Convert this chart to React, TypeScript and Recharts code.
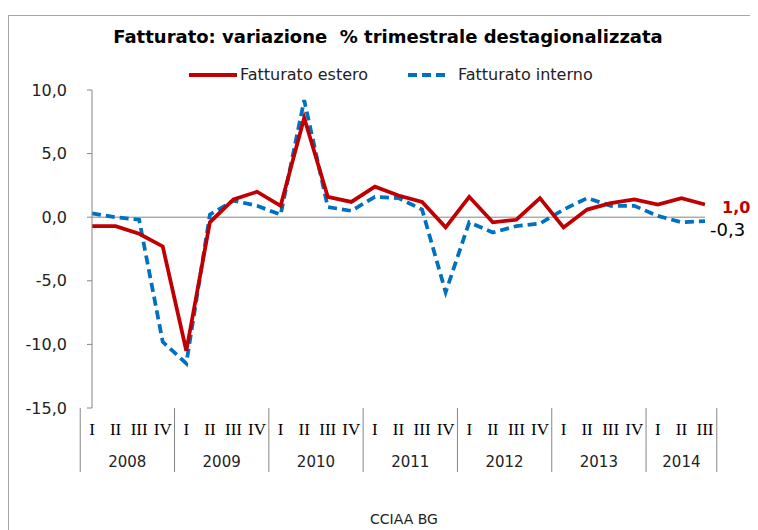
import { LineChart, Line, XAxis, YAxis, ReferenceLine, Legend, LabelList } from 'recharts';

const years = ['2008', '2009', '2010', '2011', '2012', '2013', '2014'];
const quarterNames = ['I', 'II', 'III', 'IV'];
const quartersPerYear = [4, 4, 4, 4, 4, 4, 3];

// Fatturato estero (rosso, continuo)
const estero = [-0.7, -0.7, -1.3, -2.3, -10.5, -0.4, 1.4, 2.0, 0.9, 7.8, 1.6, 1.2, 2.4, 1.7, 1.2, -0.8, 1.6, -0.4, -0.2, 1.5, -0.8, 0.6, 1.1, 1.4, 1.0, 1.5, 1.0];
// Fatturato interno (blu, tratteggiato)
const interno = [0.3, 0.0, -0.2, -9.8, -11.5, 0.2, 1.3, 0.9, 0.2, 9.2, 0.8, 0.5, 1.6, 1.5, 0.6, -5.9, -0.4, -1.2, -0.7, -0.5, 0.6, 1.5, 0.9, 0.9, 0.1, -0.4, -0.3];

const yTicks = [-15, -10, -5, 0, 5, 10];

const data = years
  .flatMap((year, yi) =>
    quarterNames.slice(0, quartersPerYear[yi]).map((q, qi) => ({
      key: `${year}-${q}`,
      year,
      q,
      first: qi === 0,
      groupSize: quartersPerYear[yi],
    }))
  )
  .map((d, i) => ({ ...d, estero: estero[i], interno: interno[i] }));

const W = 750;
const H = 522;
const PLOT_LEFT = 73;
const PLOT_RIGHT = 709;
const PLOT_TOP = 82;
const PLOT_BOTTOM = 400;
const Y_AXIS_W = 60;
const X_AXIS_H = 80;
const BAND = (PLOT_RIGHT - PLOT_LEFT) / data.length;
// recharts eats ~11px more on each side than the margin says, found by measuring
const FUDGE_L = 11;
const FUDGE_R = 12;

const RED = '#C00000';
const BLUE = '#0070C0';
const GREY = '#868686';
const SANS = "'DejaVu Sans', Verdana, sans-serif";

const fmt = (v: number) => v.toFixed(1).replace('.', ',');

const CategoryTick = (props: any) => {
  const { x, y, payload } = props;
  const i = props.index ?? payload.index;
  const d = data[i];
  if (!d) return null;
  const left = x - BAND / 2;
  return (
    <g>
      <text x={x} y={y + 21} textAnchor="middle" dominantBaseline="central"
        fontFamily="'Liberation Serif', serif" fontSize={17} fill="#000">{d.q}</text>
      {d.first && <line x1={left} x2={left} y1={y} y2={y + 64} stroke={GREY} />}
      {d.first && (
        <text x={left + (BAND * d.groupSize) / 2} y={y + 54} textAnchor="middle" dominantBaseline="central"
          fontFamily={SANS} fontSize={15} fill="#222">{d.year}</text>
      )}
      {i === data.length - 1 && <line x1={x + BAND / 2} x2={x + BAND / 2} y1={y} y2={y + 64} stroke={GREY} />}
    </g>
  );
};

const EndLabel = (color: string, bold: boolean, dx: number, dy: number) => (props: any) => {
  const { x, y, value, index } = props;
  if (index !== data.length - 1) return null;
  return (
    <text x={x + dx} y={y + dy} dominantBaseline="central" fontFamily={SANS}
      fontSize={bold ? 16 : 18} fontWeight={bold ? 'bold' : 'normal'} fill={color}>{fmt(value)}</text>
  );
};

const LegendContent = () => (
  <div style={{ position: 'relative', height: 20, fontFamily: SANS, fontSize: 16, color: '#222' }}>
    <svg style={{ position: 'absolute', left: 181, top: 0 }} width={48} height={20}>
      <line x1={0} x2={48} y1={10} y2={10} stroke={RED} strokeWidth={4} />
    </svg>
    <span style={{ position: 'absolute', left: 232, top: 0, lineHeight: '20px', whiteSpace: 'nowrap' }}>Fatturato estero</span>
    <svg style={{ position: 'absolute', left: 399, top: 0 }} width={42} height={20}>
      <line x1={1} x2={42} y1={10} y2={10} stroke={BLUE} strokeWidth={4} strokeDasharray="9 5" />
    </svg>
    <span style={{ position: 'absolute', left: 450, top: 0, lineHeight: '20px', whiteSpace: 'nowrap' }}>Fatturato interno</span>
  </div>
);

export default function App() {
  return (
    <div style={{ position: 'relative', width: W, height: H, overflow: 'hidden', background: '#fff' }}>
      <div style={{ position: 'absolute', left: 0, top: 7, width: W + 20, height: H + 20, border: '1px solid #a6a6a6' }} />
      <div style={{ position: 'absolute', left: 0, top: 18, width: 760, textAlign: 'center', fontFamily: SANS, fontWeight: 'bold', fontSize: 18, lineHeight: '22px', color: '#000' }}>
        Fatturato: variazione&nbsp; % trimestrale destagionalizzata
      </div>
      <LineChart
        width={W}
        height={H}
        data={data}
        margin={{ top: PLOT_TOP, right: W - PLOT_RIGHT + FUDGE_R, left: PLOT_LEFT - Y_AXIS_W + FUDGE_L, bottom: H - PLOT_BOTTOM - X_AXIS_H }}
        style={{ position: 'absolute', left: 0, top: 0 }}
      >
        <XAxis dataKey="key" interval={0} height={X_AXIS_H} axisLine={false} tickLine={false}
          tickSize={0} tickMargin={0} tick={<CategoryTick />} />
        <YAxis domain={[-15, 10]} ticks={yTicks} width={Y_AXIS_W} tickFormatter={fmt}
          axisLine={{ stroke: GREY }} tickLine={{ stroke: GREY }} tickSize={5} tickMargin={8}
          tick={{ fontFamily: SANS, fontSize: 16, fill: '#222', dx: -12 }} allowDataOverflow />
        <ReferenceLine y={0} stroke={GREY} strokeWidth={1} />
        <Legend layout="horizontal" verticalAlign="middle" align="center"
          wrapperStyle={{ top: 57, left: 0, width: W, height: 20 }} content={<LegendContent />} />
        <Line dataKey="interno" name="Fatturato interno" stroke={BLUE} strokeWidth={3.75}
          strokeDasharray="9 5" dot={false} activeDot={false} isAnimationActive={false}>
          <LabelList dataKey="interno" content={EndLabel('#000', false, 5, 8)} />
        </Line>
        <Line dataKey="estero" name="Fatturato estero" stroke={RED} strokeWidth={3.75}
          dot={false} activeDot={false} isAnimationActive={false}>
          <LabelList dataKey="estero" content={EndLabel(RED, true, 17, 3)} />
        </Line>
      </LineChart>
      <div style={{ position: 'absolute', left: 0, top: 502, width: 792, textAlign: 'center', fontFamily: SANS, fontSize: 14, lineHeight: '18px', color: '#222' }}>
        CCIAA BG
      </div>
    </div>
  );
}
